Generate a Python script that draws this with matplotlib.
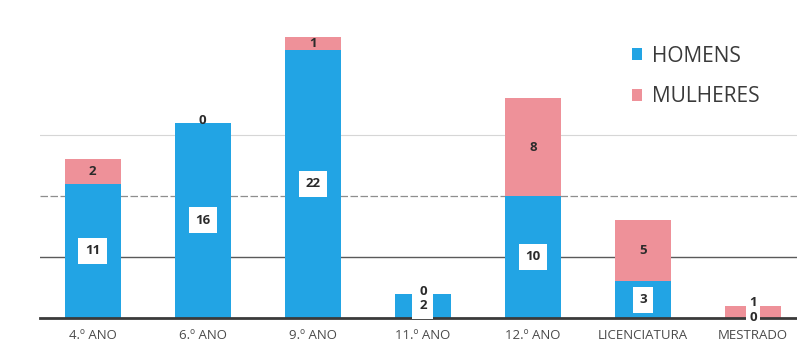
import matplotlib
matplotlib.use("Agg")
import matplotlib.pyplot as plt
import numpy as np

CATEGORIES = ["4.º ANO", "6.º ANO", "9.º ANO", "11.º ANO", "12.º ANO", "LICENCIATURA", "MESTRADO"]
HOMENS = [11, 16, 22, 2, 10, 3, 0]
MULHERES = [2, 0, 1, 0, 8, 5, 1]

BLUE = "#22A4E4"
PINK = "#EE9199"
INK = "#2B2B2B"
MUTED = "#4A4A4A"

plt.rcParams["font.family"] = ["Open Sans", "DejaVu Sans"]

fig = plt.figure(figsize=(7.97, 3.43), dpi=100)
ax = fig.add_axes([0.05, 0.073, 0.95, 0.889])

x = np.arange(len(CATEGORIES))
width = 0.51
homens = np.array(HOMENS, dtype=float)
mulheres = np.array(MULHERES, dtype=float)

ax.bar(x, homens, width=width, color=BLUE, label="HOMENS", zorder=2)
ax.bar(x, mulheres, width=width, bottom=homens, color=PINK, label="MULHERES", zorder=2)

box = dict(boxstyle="square,pad=0.5", facecolor="white", edgecolor="none")
small_box = dict(boxstyle="square,pad=0.25", facecolor="white", edgecolor="none")
lbl = dict(ha="center", va="center", fontsize=9.5, fontweight="bold", color=INK, zorder=4)
for xi, h, m in zip(x, homens, mulheres):
    # homens label, boxed
    if h > 0:
        ax.text(xi, h / 2, f"{int(h)}", bbox=box, **lbl)
    else:
        ax.text(xi, 0.0, "0", bbox=small_box, **lbl)
    # mulheres label
    if m == 0:
        ax.text(xi, h + 0.15, "0", **lbl)
    elif h == 0:
        # label pushed up, its box clears the middle of the thin segment
        ax.text(xi, 1.3, f"{int(m)}", bbox=small_box, **lbl)
    else:
        ax.text(xi, h + m / 2, f"{int(m)}", **lbl)

ax.set_xlim(-0.48, 6.4)
ax.set_ylim(0, 25)
ax.tick_params(axis="y", left=False, labelleft=False)
ax.tick_params(axis="x", length=0, pad=8, labelsize=9.5, labelcolor=MUTED)
ax.set_xticks(x)
ax.set_xticklabels(CATEGORIES)
ax.set_yticks([])
ax.axhline(5, color="#5A5A5A", linewidth=1.0, zorder=0)
ax.axhline(10, color="#8E8E8E", linewidth=0.9, linestyle=(0, (6, 2)), zorder=0)
ax.axhline(15, color="#D6D6D6", linewidth=0.8, zorder=0)
for side in ("top", "right", "left"):
    ax.spines[side].set_visible(False)
ax.spines["bottom"].set_color("#3A3A3A")
ax.spines["bottom"].set_linewidth(2)

ax.legend(loc="upper left", bbox_to_anchor=(0.782, 0.893), frameon=False,
          borderpad=0, borderaxespad=0,
          fontsize=15, handlelength=0.5, handleheight=0.5, handletextpad=0.45,
          labelspacing=0.95, labelcolor="#3A3A3A")

fig.savefig("out.png", dpi=100)
